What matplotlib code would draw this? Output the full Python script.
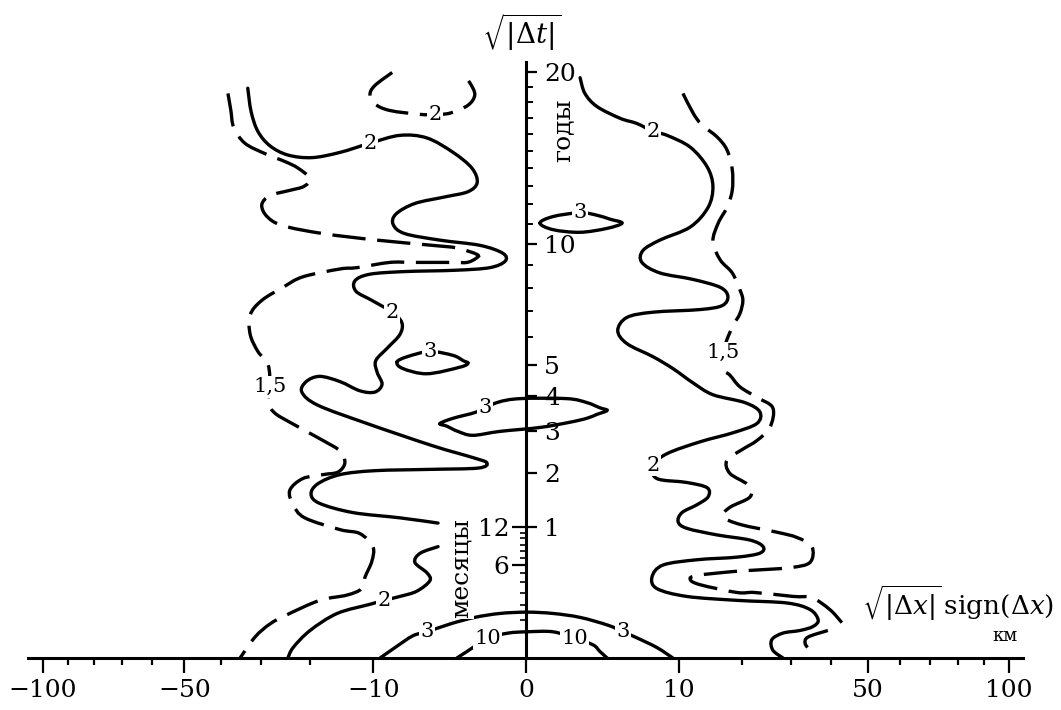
import numpy as np
import matplotlib
matplotlib.use("Agg")
import matplotlib.pyplot as plt
from matplotlib.path import Path
from matplotlib.patches import PathPatch

plt.rcParams["font.family"] = ["DejaVu Serif"]
plt.rcParams["mathtext.fontset"] = "dejavuserif"

# axes are in root units: x = sign(dx)*sqrt(|dx|, km), y = sqrt(dt, years)
x_major = [-100, -50, -10, 0, 10, 50, 100]
x_minor = [-90, -80, -70, -60, -40, -30, -20, 20, 30, 40, 60, 70, 80, 90]
year_major = [1, 2, 3, 4, 5, 10, 20]
year_minor = [6, 7, 8, 9, 11, 12, 13, 14, 15, 16, 17, 18, 19]
month_major = [6, 12]
month_minor = [1, 2, 3, 4, 5, 7, 8, 9, 10, 11]

# solid contours
s_left_x = [-5.76, -5.69, -5.55, -5.30, -4.93, -4.43, -3.85, -3.23, -2.61, -2.05, -1.51, -1.12, -1.01, -1.20,
            -1.68, -2.30, -2.69, -2.75, -2.51, -1.78, -0.95, -0.48, -0.43, -0.75, -1.47, -2.51, -3.23, -3.54,
            -3.52, -3.19, -2.77, -2.57, -2.61, -2.86, -3.11, -3.08, -2.98, -3.13, -3.44, -3.85, -4.27, -4.55,
            -4.64, -4.31, -3.29, -1.93, -1.10, -0.81, -0.99, -1.99, -3.13, -3.85, -4.31, -4.45, -4.27, -3.58,
            -2.61, -1.82]
s_left_y = [4.35, 4.17, 4.02, 3.91, 3.84, 3.82, 3.86, 3.93, 3.99, 3.97, 3.86, 3.74, 3.63, 3.56, 3.52, 3.47,
            3.39, 3.31, 3.24, 3.19, 3.15, 3.09, 3.03, 2.98, 2.96, 2.95, 2.93, 2.88, 2.80, 2.73, 2.64, 2.56,
            2.47, 2.37, 2.27, 2.18, 2.09, 2.03, 2.04, 2.11, 2.15, 2.11, 2.03, 1.93, 1.79, 1.62, 1.53, 1.49,
            1.45, 1.44, 1.43, 1.40, 1.33, 1.25, 1.18, 1.11, 1.07, 1.03]
s_left_low_x = [-1.82, -2.19, -2.30, -2.05, -1.99, -2.26, -2.61, -2.94, -3.23, -3.91, -4.47, -4.82, -4.93]
s_left_low_y = [0.85, 0.80, 0.73, 0.65, 0.59, 0.51, 0.47, 0.44, 0.41, 0.34, 0.21, 0.08, 0.00]
s_ring_a_x = [-2.67, -2.46, -1.99, -1.51, -1.30, -1.20, -1.37, -2.05, -2.55]
s_ring_a_y = [2.26, 2.30, 2.34, 2.31, 2.27, 2.25, 2.22, 2.17, 2.21]
s_ring_b_x = [-1.78, -1.51, -1.01, -0.60, -0.12, 0.85, 1.26, 1.53, 1.68, 1.47, 1.26, 0.91, 0.29, -0.54,
              -1.10, -1.41, -1.64]
s_ring_b_y = [1.79, 1.83, 1.88, 1.95, 1.98, 1.98, 1.95, 1.91, 1.89, 1.86, 1.83, 1.80, 1.76, 1.73, 1.70,
              1.73, 1.77]
s_ring_c_x = [0.29, 0.56, 1.12, 1.47, 1.74, 1.99, 1.68, 1.12, 0.56]
s_ring_c_y = [3.32, 3.37, 3.40, 3.38, 3.35, 3.32, 3.28, 3.25, 3.27]
s_right_x = [1.12, 1.22, 1.47, 1.95, 2.30, 2.63, 2.92, 3.40, 3.75, 3.87, 3.77, 3.40, 2.77, 2.42, 2.40, 2.77,
             3.46, 4.02, 4.18, 4.06, 3.60, 2.63, 2.09, 1.90, 2.09, 2.63, 3.04, 3.46, 3.87, 4.53, 4.84, 4.78,
             4.29, 3.60, 2.92, 2.63, 2.71, 3.33, 3.75, 3.77, 3.54, 3.23, 3.15, 3.33, 3.95, 4.64, 4.91, 4.84,
             4.37, 3.54, 2.84, 2.61, 2.71, 3.33, 4.37, 5.40, 5.88, 6.05, 5.94, 5.67, 5.32, 5.09, 5.11, 5.32]
s_right_y = [4.43, 4.31, 4.21, 4.12, 4.08, 4.02, 3.99, 3.90, 3.75, 3.60, 3.44, 3.29, 3.19, 3.11, 3.02, 2.94,
             2.89, 2.83, 2.76, 2.69, 2.66, 2.64, 2.60, 2.50, 2.40, 2.30, 2.21, 2.10, 2.01, 1.95, 1.88, 1.79,
             1.72, 1.65, 1.56, 1.47, 1.37, 1.34, 1.30, 1.23, 1.17, 1.11, 1.04, 0.99, 0.94, 0.90, 0.85, 0.80,
             0.77, 0.75, 0.71, 0.62, 0.53, 0.47, 0.44, 0.42, 0.37, 0.29, 0.24, 0.21, 0.19, 0.14, 0.06, 0.00]
s_dome3_x = [-3.02, -2.71, -2.34, -2.05, -1.57, -1.06, -0.54, 0.02, 0.56, 1.12, 1.70, 2.01, 2.26, 2.71, 3.04]
s_dome3_y = [0.00, 0.08, 0.17, 0.20, 0.26, 0.31, 0.34, 0.35, 0.34, 0.31, 0.25, 0.20, 0.16, 0.08, 0.00]
s_dome10_x = [-1.43, -1.22, -0.79, -0.37, 0.02, 0.56, 1.01, 1.39, 1.53, 1.68]
s_dome10_y = [0.00, 0.05, 0.15, 0.19, 0.20, 0.20, 0.15, 0.10, 0.05, 0.00]

# dashed contours
d_cap_x = [-2.77, -3.13, -3.23, -3.13, -2.82, -2.19, -1.88, -1.57, -1.20, -1.06, -1.16, -1.30]
d_cap_y = [4.47, 4.37, 4.30, 4.23, 4.18, 4.15, 4.15, 4.16, 4.22, 4.30, 4.39, 4.45]
d_left_x = [-6.17, -6.11, -6.05, -5.82, -5.40, -4.99, -4.72, -4.47, -4.60, -4.89, -5.30, -5.47, -5.36, -5.03,
            -4.20, -3.08, -1.93, -1.43, -1.01, -1.04, -1.22, -1.51, -2.34, -2.82, -3.50, -3.85, -4.62, -5.03,
            -5.47, -5.71, -5.71, -5.55, -5.34, -5.30, -5.34, -5.20, -4.89, -4.20, -3.85, -3.75, -3.89, -4.20,
            -4.62, -4.89, -4.82, -4.58, -3.85, -3.44, -3.17, -3.19, -3.33, -3.40, -3.71, -4.27, -4.95, -5.30,
            -5.61, -5.92]
d_left_y = [4.31, 4.18, 4.05, 3.93, 3.85, 3.79, 3.74, 3.66, 3.60, 3.57, 3.53, 3.46, 3.37, 3.30, 3.24, 3.19,
            3.15, 3.13, 3.08, 3.05, 3.02, 3.02, 3.02, 3.02, 2.98, 2.97, 2.91, 2.83, 2.73, 2.62, 2.47, 2.34,
            2.24, 2.07, 1.95, 1.87, 1.80, 1.66, 1.58, 1.49, 1.42, 1.40, 1.37, 1.28, 1.17, 1.07, 0.98, 0.95,
            0.85, 0.74, 0.62, 0.53, 0.48, 0.44, 0.33, 0.26, 0.16, 0.00]
d_right_x = [3.25, 3.46, 3.64, 3.95, 4.16, 4.27, 4.27, 4.16, 3.98, 3.87, 4.02, 4.27, 4.43, 4.49, 4.43, 4.29,
             4.16, 4.08, 4.06, 4.22, 4.43, 4.78, 5.11, 5.05, 4.78, 4.47, 4.16, 4.22, 4.60, 4.64, 4.22, 4.08,
             4.43, 5.20, 5.61, 5.92, 5.88, 5.47, 4.70, 4.29, 3.54, 3.40, 3.60, 4.37, 4.74, 5.53, 5.92, 6.29,
             6.54]
d_right_y = [4.31, 4.16, 4.07, 3.98, 3.88, 3.73, 3.57, 3.44, 3.32, 3.18, 3.04, 2.94, 2.81, 2.73, 2.63, 2.54,
             2.43, 2.33, 2.21, 2.16, 2.07, 1.99, 1.91, 1.76, 1.66, 1.59, 1.51, 1.41, 1.32, 1.23, 1.15, 1.08,
             1.02, 0.96, 0.92, 0.85, 0.73, 0.69, 0.67, 0.66, 0.63, 0.60, 0.56, 0.50, 0.50, 0.47, 0.46, 0.37,
             0.27]
d_hook_x = [6.25, 5.84, 5.78, 5.88]
d_hook_y = [0.21, 0.16, 0.11, 0.06]

level_labels = ["2", "2", "2", "3", "1,5", "3", "2", "3", "10", "10", "3", "2", "3", "1,5", "2"]
level_x = [-1.88, -3.23, -2.77, -1.99, -5.30, -0.85, -2.94, -2.05, -0.79, 1.01, 2.01, 2.63, 1.12, 4.08, 2.63]
level_y = [4.15, 3.93, 2.64, 2.34, 2.07, 1.91, 0.44, 0.20, 0.15, 0.15, 0.20, 4.02, 3.40, 2.33, 1.47]


def smooth(xs, ys, closed=False):
    # catmull-rom through the points, drawn as bezier path
    pts = np.column_stack([xs, ys])
    if closed:
        pts = np.vstack([pts, pts[:1]])
        ext = np.vstack([pts[-2:-1], pts, pts[1:2]])
    else:
        ext = np.vstack([pts[:1], pts, pts[-1:]])
    verts = [pts[0]]
    codes = [Path.MOVETO]
    for i in range(len(pts) - 1):
        p0, p1, p2, p3 = ext[i], ext[i + 1], ext[i + 2], ext[i + 3]
        verts += [p1 + (p2 - p0) / 6, p2 - (p3 - p1) / 6, p2]
        codes += [Path.CURVE4] * 3
    return Path(verts, codes)


def sroot(v):
    v = np.asarray(v, dtype=float)
    return np.sign(v) * np.sqrt(np.abs(v))


fig = plt.figure(figsize=(10.61, 7.10), dpi=100)
ax = fig.add_axes([28 / 1061, 52 / 710, 995 / 1061, 596 / 710])
xlo, xhi = -10.31, 10.29
ax.set_xlim(xlo, xhi)
ax.set_ylim(0, 4.55)

lw = 2.4
solid = [(s_left_x, s_left_y, False), (s_left_low_x, s_left_low_y, False),
         (s_ring_a_x, s_ring_a_y, True), (s_ring_b_x, s_ring_b_y, True),
         (s_ring_c_x, s_ring_c_y, True), (s_right_x, s_right_y, False),
         (s_dome3_x, s_dome3_y, False), (s_dome10_x, s_dome10_y, False)]
dashed = [(d_cap_x, d_cap_y), (d_left_x, d_left_y), (d_right_x, d_right_y), (d_hook_x, d_hook_y)]

for xs, ys, closed in solid:
    ax.add_patch(PathPatch(smooth(xs, ys, closed), fill=False, lw=lw, ec="black",
                           capstyle="round", zorder=3))
for xs, ys in dashed:
    ax.add_patch(PathPatch(smooth(xs, ys), fill=False, lw=lw, ec="black",
                           ls=(0, (10, 3.5)), zorder=3))

for s, x, y in zip(level_labels, level_x, level_y):
    ax.text(x, y, s, ha="center", va="center", fontsize=15, zorder=5,
            bbox=dict(boxstyle="square,pad=0.06", fc="white", ec="none"))

# axes lines
for side in ["top", "left"]:
    ax.spines[side].set_visible(False)
ax.spines["right"].set_position(("data", 0))
ax.spines["right"].set_linewidth(2.2)
ax.spines["bottom"].set_linewidth(2.2)

ax.set_xticks(sroot(x_major), ["\u2212100", "\u221250", "\u221210", "0", "10", "50", "100"])
ax.set_xticks(sroot(x_minor), minor=True)
ax.tick_params(axis="x", which="major", direction="out", length=11, width=1.6, pad=4, labelsize=18)
ax.tick_params(axis="x", which="minor", direction="out", length=5, width=1.6)

ax.yaxis.set_ticks_position("right")
ax.set_yticks(np.sqrt(year_major), [str(v) for v in year_major])
ax.set_yticks(np.sqrt(year_minor), minor=True)
ax.tick_params(axis="y", which="major", direction="out", length=8, width=1.6, pad=5, labelsize=18)
ax.tick_params(axis="y", which="minor", direction="out", length=5, width=1.4)

sec = ax.secondary_yaxis((0 - xlo) / (xhi - xlo))
sec.set_alignment("left")
sec.spines["left"].set_visible(False)
sec.set_yticks(np.sqrt(np.array(month_major) / 12), [str(v) for v in month_major])
sec.set_yticks(np.sqrt(np.array(month_minor) / 12), minor=True)
sec.tick_params(which="major", direction="out", length=10, width=1.6, pad=2, labelsize=18)
sec.tick_params(which="minor", direction="out", length=4, width=1.2)

fig.text(0.492, 0.955, r"$\sqrt{|\Delta t|}$", fontsize=20, ha="center", va="center")
fig.text(0.903, 0.151, r"$\sqrt{|\Delta x|}\,\mathrm{sign}(\Delta x)$", fontsize=19,
         ha="center", va="center")
fig.text(0.947, 0.104, "км", fontsize=13, ha="center", va="center")
fig.text(0.5306, 0.817, "годы", fontsize=18, rotation=90, ha="center", va="center")
fig.text(0.4345, 0.2, "месяцы", fontsize=18, rotation=90, ha="center", va="center",
         bbox=dict(boxstyle="square,pad=0.05", fc="white", ec="none"), zorder=6)

fig.savefig("out.png", dpi=100)
plt.close(fig)
